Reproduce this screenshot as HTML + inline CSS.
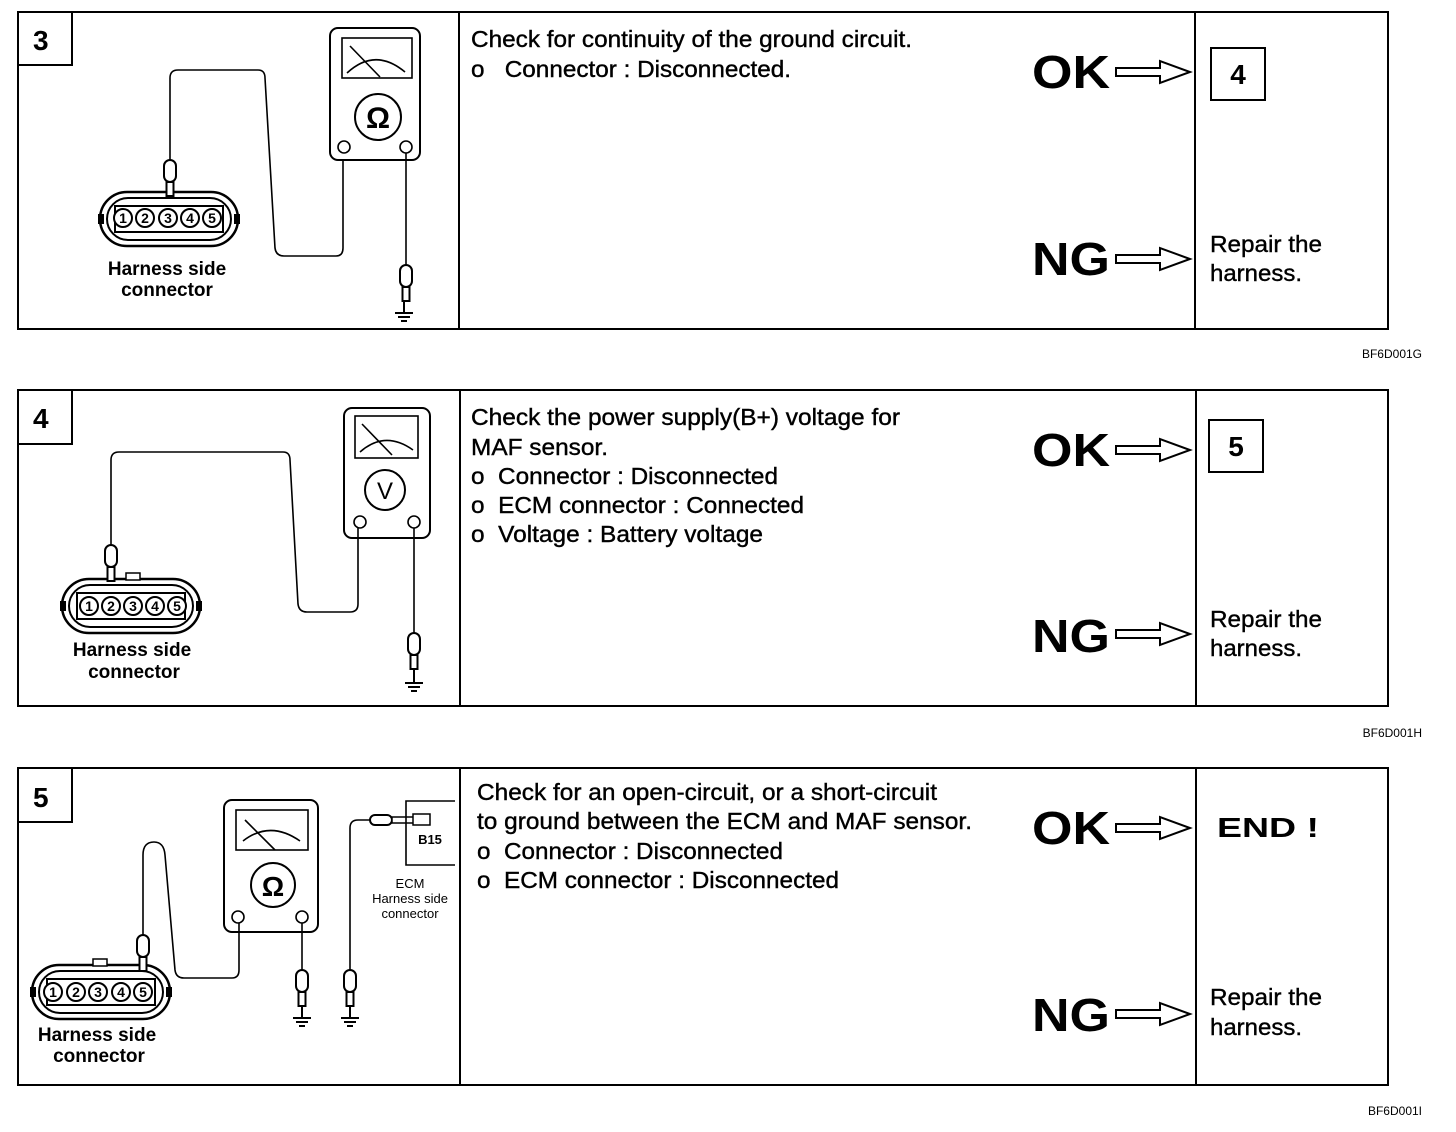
<!DOCTYPE html>
<html><head><meta charset="utf-8"><style>
html,body{margin:0;padding:0;background:#fff;}
svg{display:block;}
text{font-family:"Liberation Sans",Arial,sans-serif;fill:#000;}
.t{font-size:23px;stroke:#000;stroke-width:0.4;}
.b{font-weight:bold;}
.big{font-size:46px;font-weight:bold;}
.lbl{font-size:19px;font-weight:bold;}
.pin{font-size:14px;font-weight:bold;text-anchor:middle;}
.ln{fill:none;stroke:#000;stroke-width:2;}
.thin{fill:none;stroke:#000;stroke-width:1.6;}
</style></head><body>
<svg width="1456" height="1132" viewBox="0 0 1456 1132" xmlns="http://www.w3.org/2000/svg">
<defs>
<g id="arrow"><polygon points="0,-4 44,-4 44,-11 74,0 44,11 44,4 0,4" fill="#fff" stroke="#000" stroke-width="2"/></g>
<g id="probe">
<rect x="-6" y="0" width="12" height="22" rx="6" fill="#fff" stroke="#000" stroke-width="2"/>
<rect x="-3.5" y="22" width="7" height="14" fill="#fff" stroke="#000" stroke-width="2"/>
</g>
<g id="gnd"><line x1="-9" y1="0" x2="9" y2="0" stroke="#000" stroke-width="2"/><line x1="-6" y1="4" x2="6" y2="4" stroke="#000" stroke-width="2"/><line x1="-3" y1="8" x2="3" y2="8" stroke="#000" stroke-width="2"/></g>
<g id="conn">
<rect x="0" y="0" width="138" height="54" rx="27" fill="#fff" stroke="#000" stroke-width="2.5"/>
<rect x="7" y="6" width="124" height="42" rx="21" fill="none" stroke="#000" stroke-width="2"/>
<rect x="-2" y="22" width="6" height="10" fill="#000"/>
<rect x="134" y="22" width="6" height="10" fill="#000"/>
<rect x="15" y="14" width="108" height="26" fill="#fff" stroke="#000" stroke-width="2"/>
</g>
</defs>

<!-- ===== PANEL 3 ===== -->
<rect x="18" y="12" width="1370" height="317" class="ln"/>
<line x1="459" y1="12" x2="459" y2="329" class="ln"/>
<line x1="1195" y1="12" x2="1195" y2="329" class="ln"/>
<rect x="18" y="12" width="54" height="53" class="ln"/>
<text x="33" y="50" class="b" font-size="28">3</text>
<rect x="330" y="28" width="90" height="132" rx="8" class="ln"/>
<rect x="342" y="38" width="70" height="40" class="thin"/>
<path d="M347,73 Q375,47 405,72" class="thin"/><line x1="350" y1="46" x2="380" y2="77" class="thin"/>
<circle cx="378" cy="117" r="23" class="ln"/>
<text x="378" y="128" class="b" font-size="30" text-anchor="middle">Ω</text>
<circle cx="344" cy="147" r="6" class="thin"/><circle cx="406" cy="147" r="6" class="thin"/>
<path d="M170,165 V78 Q170,70 178,70 H258 Q265,70 265,78 L275,248 Q276,256 284,256 H336 Q343,256 343,248 V160" class="thin"/>
<path d="M406,153 V268" class="thin"/>
<use href="#probe" x="406" y="265"/>
<use href="#gnd" x="404" y="313"/>
<line x1="404" y1="301" x2="404" y2="313" stroke="#000" stroke-width="2"/>
<use href="#conn" x="100" y="192"/>
<use href="#probe" x="170" y="160"/>
<g class="pin"><circle cx="123" cy="218" r="9" fill="#fff" stroke="#000" stroke-width="2"/><text x="123" y="223">1</text>
<circle cx="145" cy="218" r="9" fill="#fff" stroke="#000" stroke-width="2"/><text x="145" y="223">2</text>
<circle cx="168" cy="218" r="9" fill="#fff" stroke="#000" stroke-width="2"/><text x="168" y="223">3</text>
<circle cx="190" cy="218" r="9" fill="#fff" stroke="#000" stroke-width="2"/><text x="190" y="223">4</text>
<circle cx="212" cy="218" r="9" fill="#fff" stroke="#000" stroke-width="2"/><text x="212" y="223">5</text></g>
<text x="167" y="275" class="lbl" text-anchor="middle">Harness side</text>
<text x="167" y="296" class="lbl" text-anchor="middle">connector</text>
<text x="471" y="47" class="t" textLength="441" lengthAdjust="spacingAndGlyphs">Check for continuity of the ground circuit.</text>
<text x="471" y="77" class="t" textLength="320" lengthAdjust="spacingAndGlyphs">o&#160;&#160;&#160;Connector : Disconnected.</text>
<text x="1032" y="88" class="big" textLength="78" lengthAdjust="spacingAndGlyphs">OK</text>
<use href="#arrow" x="1116" y="72"/>
<rect x="1211" y="48" width="54" height="52" class="ln"/>
<text x="1238" y="84" class="b" font-size="28" text-anchor="middle">4</text>
<text x="1032" y="275" class="big" textLength="78" lengthAdjust="spacingAndGlyphs">NG</text>
<use href="#arrow" x="1116" y="259"/>
<text x="1210" y="252" class="t" textLength="112" lengthAdjust="spacingAndGlyphs">Repair the</text>
<text x="1210" y="281" class="t" textLength="92" lengthAdjust="spacingAndGlyphs">harness.</text>
<text x="1422" y="358" font-size="12" text-anchor="end">BF6D001G</text>

<!-- ===== PANEL 4 ===== -->
<rect x="18" y="390" width="1370" height="316" class="ln"/>
<line x1="460" y1="390" x2="460" y2="706" class="ln"/>
<line x1="1196" y1="390" x2="1196" y2="706" class="ln"/>
<rect x="18" y="390" width="54" height="54" class="ln"/>
<text x="33" y="428" class="b" font-size="28">4</text>
<rect x="344" y="408" width="86" height="130" rx="8" class="ln"/>
<rect x="355" y="416" width="63" height="42" class="thin"/>
<path d="M360,452 Q385,430 413,450" class="thin"/><line x1="362" y1="424" x2="392" y2="455" class="thin"/>
<circle cx="385" cy="490" r="20" class="ln"/>
<text x="385" y="499" font-size="24" text-anchor="middle">V</text>
<circle cx="360" cy="522" r="6" class="thin"/><circle cx="414" cy="522" r="6" class="thin"/>
<path d="M111,545 V460 Q111,452 119,452 H283 Q290,452 290,460 L298,604 Q299,612 307,612 H350 Q358,612 358,604 V528" class="thin"/>
<path d="M414,528 V640" class="thin"/>
<use href="#probe" x="414" y="633"/>
<line x1="414" y1="669" x2="414" y2="683" stroke="#000" stroke-width="2"/>
<use href="#gnd" x="414" y="683"/>
<use href="#conn" x="62" y="579"/>
<rect x="126" y="573" width="14" height="7" fill="#fff" stroke="#000" stroke-width="1.5"/>
<use href="#probe" x="111" y="545"/>
<g class="pin"><circle cx="89" cy="606" r="9" fill="#fff" stroke="#000" stroke-width="2"/><text x="89" y="611">1</text>
<circle cx="111" cy="606" r="9" fill="#fff" stroke="#000" stroke-width="2"/><text x="111" y="611">2</text>
<circle cx="133" cy="606" r="9" fill="#fff" stroke="#000" stroke-width="2"/><text x="133" y="611">3</text>
<circle cx="155" cy="606" r="9" fill="#fff" stroke="#000" stroke-width="2"/><text x="155" y="611">4</text>
<circle cx="177" cy="606" r="9" fill="#fff" stroke="#000" stroke-width="2"/><text x="177" y="611">5</text></g>
<text x="132" y="656" class="lbl" text-anchor="middle">Harness side</text>
<text x="134" y="678" class="lbl" text-anchor="middle">connector</text>
<text x="471" y="425" class="t" textLength="429" lengthAdjust="spacingAndGlyphs">Check the power supply(B+) voltage for</text>
<text x="471" y="455" class="t" textLength="137" lengthAdjust="spacingAndGlyphs">MAF sensor.</text>
<text x="471" y="484" class="t" textLength="307" lengthAdjust="spacingAndGlyphs">o&#160;&#160;Connector : Disconnected</text>
<text x="471" y="513" class="t" textLength="333" lengthAdjust="spacingAndGlyphs">o&#160;&#160;ECM connector : Connected</text>
<text x="471" y="542" class="t" textLength="292" lengthAdjust="spacingAndGlyphs">o&#160;&#160;Voltage : Battery voltage</text>
<text x="1032" y="466" class="big" textLength="78" lengthAdjust="spacingAndGlyphs">OK</text>
<use href="#arrow" x="1116" y="450"/>
<rect x="1209" y="420" width="54" height="52" class="ln"/>
<text x="1236" y="456" class="b" font-size="28" text-anchor="middle">5</text>
<text x="1032" y="652" class="big" textLength="78" lengthAdjust="spacingAndGlyphs">NG</text>
<use href="#arrow" x="1116" y="634"/>
<text x="1210" y="627" class="t" textLength="112" lengthAdjust="spacingAndGlyphs">Repair the</text>
<text x="1210" y="656" class="t" textLength="92" lengthAdjust="spacingAndGlyphs">harness.</text>
<text x="1422" y="737" font-size="12" text-anchor="end">BF6D001H</text>

<!-- ===== PANEL 5 ===== -->
<rect x="18" y="768" width="1370" height="317" class="ln"/>
<line x1="460" y1="768" x2="460" y2="1085" class="ln"/>
<line x1="1196" y1="768" x2="1196" y2="1085" class="ln"/>
<rect x="18" y="768" width="54" height="54" class="ln"/>
<text x="33" y="807" class="b" font-size="28">5</text>
<rect x="224" y="800" width="94" height="132" rx="8" class="ln"/>
<rect x="236" y="810" width="72" height="40" class="thin"/>
<path d="M243,841 Q270,820 300,841" class="thin"/><line x1="245" y1="820" x2="275" y2="850" class="thin"/>
<circle cx="273" cy="885" r="22" class="ln"/>
<text x="273" y="896" class="b" font-size="28" text-anchor="middle">Ω</text>
<circle cx="238" cy="917" r="6" class="thin"/><circle cx="302" cy="917" r="6" class="thin"/>
<path d="M143,935 V855 Q143,842 154,842 Q164,842 165,855 L175,970 Q176,978 184,978 H232 Q239,978 239,970 V923" class="thin"/>
<path d="M302,923 V975" class="thin"/>
<use href="#probe" x="302" y="970"/>
<line x1="302" y1="1006" x2="302" y2="1018" stroke="#000" stroke-width="2"/>
<use href="#gnd" x="302" y="1018"/>
<path d="M350,975 V828 Q350,820 358,820 H370" class="thin"/>
<use href="#probe" x="350" y="970"/>
<line x1="350" y1="1006" x2="350" y2="1018" stroke="#000" stroke-width="2"/>
<use href="#gnd" x="350" y="1018"/>
<rect x="370" y="815" width="22" height="10" rx="5" fill="#fff" stroke="#000" stroke-width="2"/>
<rect x="392" y="817" width="22" height="6" fill="#fff" stroke="#000" stroke-width="1.5"/>
<path d="M455,801 H406 V865 H455" class="thin"/>
<rect x="413" y="814" width="17" height="11" fill="#fff" stroke="#000" stroke-width="1.5"/>
<text x="430" y="844" font-size="13" class="b" text-anchor="middle">B15</text>
<text x="410" y="888" font-size="13" text-anchor="middle">ECM</text>
<text x="410" y="903" font-size="13" text-anchor="middle">Harness side</text>
<text x="410" y="918" font-size="13" text-anchor="middle">connector</text>
<use href="#conn" x="32" y="965"/>
<rect x="93" y="959" width="14" height="7" fill="#fff" stroke="#000" stroke-width="1.5"/>
<use href="#probe" x="143" y="935"/>
<g class="pin"><circle cx="53" cy="992" r="9" fill="#fff" stroke="#000" stroke-width="2"/><text x="53" y="997">1</text>
<circle cx="76" cy="992" r="9" fill="#fff" stroke="#000" stroke-width="2"/><text x="76" y="997">2</text>
<circle cx="98" cy="992" r="9" fill="#fff" stroke="#000" stroke-width="2"/><text x="98" y="997">3</text>
<circle cx="121" cy="992" r="9" fill="#fff" stroke="#000" stroke-width="2"/><text x="121" y="997">4</text>
<circle cx="143" cy="992" r="9" fill="#fff" stroke="#000" stroke-width="2"/><text x="143" y="997">5</text></g>
<text x="97" y="1041" class="lbl" text-anchor="middle">Harness side</text>
<text x="99" y="1062" class="lbl" text-anchor="middle">connector</text>
<text x="477" y="800" class="t" textLength="460" lengthAdjust="spacingAndGlyphs">Check for an open-circuit, or a short-circuit</text>
<text x="477" y="829" class="t" textLength="495" lengthAdjust="spacingAndGlyphs">to ground between the ECM and MAF sensor.</text>
<text x="477" y="859" class="t" textLength="306" lengthAdjust="spacingAndGlyphs">o&#160;&#160;Connector : Disconnected</text>
<text x="477" y="888" class="t" textLength="362" lengthAdjust="spacingAndGlyphs">o&#160;&#160;ECM connector : Disconnected</text>
<text x="1032" y="844" class="big" textLength="78" lengthAdjust="spacingAndGlyphs">OK</text>
<use href="#arrow" x="1116" y="828"/>
<text x="1217" y="837" class="b" font-size="28" textLength="102" lengthAdjust="spacingAndGlyphs">END !</text>
<text x="1032" y="1031" class="big" textLength="78" lengthAdjust="spacingAndGlyphs">NG</text>
<use href="#arrow" x="1116" y="1014"/>
<text x="1210" y="1005" class="t" textLength="112" lengthAdjust="spacingAndGlyphs">Repair the</text>
<text x="1210" y="1035" class="t" textLength="92" lengthAdjust="spacingAndGlyphs">harness.</text>
<text x="1422" y="1115" font-size="12" text-anchor="end">BF6D001I</text>
</svg>
</body></html>
